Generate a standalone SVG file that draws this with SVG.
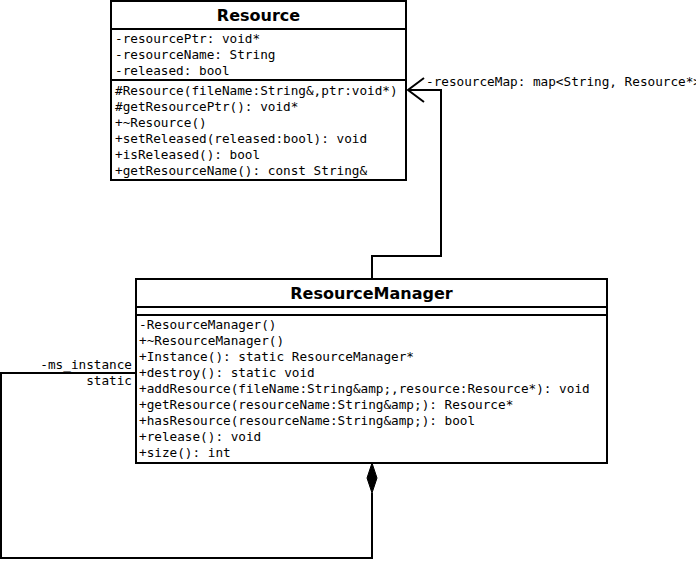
<svg xmlns="http://www.w3.org/2000/svg" width="696" height="575" viewBox="0 0 696 575">
<style>
.box{fill:#fff;stroke:#000;stroke-width:2}
.sep{stroke:#000;stroke-width:2}
.t{font-family:"DejaVu Sans Mono",monospace;font-size:12.7px;fill:#000}
.h{font-family:"DejaVu Sans",sans-serif;font-size:16px;font-weight:bold;fill:#000;text-anchor:middle}
.c{fill:none;stroke:#000;stroke-width:2}
</style>
<rect width="696" height="575" fill="#fff"/>
<g id="connectors">
<polyline class="c" points="372,279 372,256 441,256 441,90 408,90"/>
<polyline class="c" points="424,78 408,90 424,102"/>
<text class="t" x="426" y="86">-resourceMap: map&lt;String, Resource*&gt;</text>
<polyline class="c" points="136,373 1,373 1,558 372,558 372,493"/>
<polygon points="372,463 377,478 372,493 367,478" fill="#000" stroke="#000" stroke-width="1"/>
<text class="t" x="132" y="369" text-anchor="end">-ms_instance</text>
<text class="t" x="132" y="385" text-anchor="end">static</text>
</g>
<g id="Resource">
<rect class="box" x="111" y="1" width="295" height="179"/>
<line class="sep" x1="111" y1="29" x2="406" y2="29"/>
<line class="sep" x1="111" y1="80" x2="406" y2="80"/>
<text class="h" x="258.5" y="21">Resource</text>
<text class="t" x="115" y="43">-resourcePtr: void*</text>
<text class="t" x="115" y="59">-resourceName: String</text>
<text class="t" x="115" y="75">-released: bool</text>
<text class="t" x="115" y="95">#Resource(fileName:String&amp;,ptr:void*)</text>
<text class="t" x="115" y="111">#getResourcePtr(): void*</text>
<text class="t" x="115" y="127">+~Resource()</text>
<text class="t" x="115" y="143">+setReleased(released:bool): void</text>
<text class="t" x="115" y="159">+isReleased(): bool</text>
<text class="t" x="115" y="175">+getResourceName(): const String&amp;</text>
</g>
<g id="ResourceManager">
<rect class="box" x="136" y="279" width="471" height="184"/>
<line class="sep" x1="136" y1="307" x2="607" y2="307"/>
<line class="sep" x1="136" y1="315" x2="607" y2="315"/>
<text class="h" x="371.5" y="299">ResourceManager</text>
<text class="t" x="139" y="329">-ResourceManager()</text>
<text class="t" x="139" y="345">+~ResourceManager()</text>
<text class="t" x="139" y="361">+Instance(): static ResourceManager*</text>
<text class="t" x="139" y="377">+destroy(): static void</text>
<text class="t" x="139" y="393">+addResource(fileName:String&amp;amp;,resource:Resource*): void</text>
<text class="t" x="139" y="409">+getResource(resourceName:String&amp;amp;): Resource*</text>
<text class="t" x="139" y="425">+hasResource(resourceName:String&amp;amp;): bool</text>
<text class="t" x="139" y="441">+release(): void</text>
<text class="t" x="139" y="457">+size(): int</text>
</g>
</svg>
